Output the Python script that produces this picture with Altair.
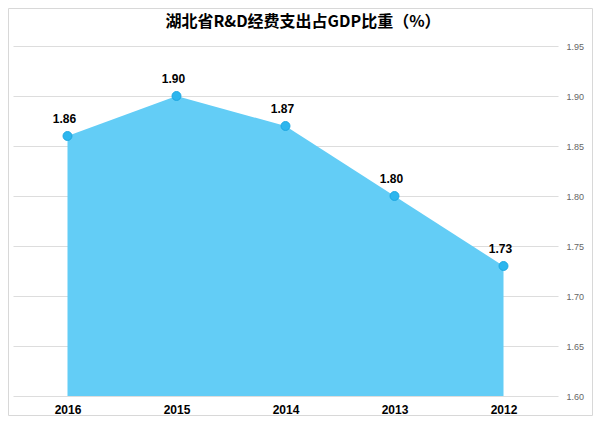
import altair as alt
import pandas as pd

years = ["2016", "2015", "2014", "2013", "2012"]
values = [1.86, 1.90, 1.87, 1.80, 1.73]
y_ticks = [1.60, 1.65, 1.70, 1.75, 1.80, 1.85, 1.90, 1.95]
title_text = "湖北省R&D经费支出占GDP比重（%）"

df = pd.DataFrame({"year": years, "value": values})

x_enc = alt.X("year:N", sort=years, title=None,
              scale=alt.Scale(type="point", padding=0.5),
              axis=alt.Axis(labelAngle=0, labelFont="Liberation Sans", labelFontSize=12,
                            labelFontWeight="bold", labelColor="#000000", ticks=False,
                            domain=False, labelPadding=8, grid=False))
y_enc = alt.Y("value:Q", title=None,
              scale=alt.Scale(domain=[1.60, 1.95], zero=False, nice=False),
              axis=alt.Axis(orient="right", values=y_ticks, format=".2f", labelFontSize=9,
                            labelColor="#666666", ticks=False, domain=False, labelPadding=8,
                            gridColor="#dddddd", gridWidth=1))

base = alt.Chart(df)

area = base.mark_area(color="#63CDF6", opacity=1).encode(x=x_enc, y=y_enc, y2=alt.datum(1.60))
pts = base.mark_circle(size=80, color="#2DB6EE", opacity=1, stroke="#1FA8E2", strokeWidth=1).encode(
    x=alt.X("year:N", sort=years), y="value:Q")
labels = base.mark_text(dy=-17, dx=-3, fontSize=12, font="Liberation Sans", color="#000000",
                        fontWeight="bold").encode(
    x=alt.X("year:N", sort=years), y="value:Q", text=alt.Text("value:Q", format=".2f"))

meta = pd.DataFrame({"t": [title_text]})
title = alt.Chart(meta).mark_text(font="Noto Sans CJK SC", fontSize=16, fontWeight="bold",
                                  color="#000000", baseline="middle", align="center").encode(
    text="t:N", x=alt.value(290), y=alt.value(-24))

frame = alt.Chart(meta).mark_rect(
    fill=None, stroke="#d8d8d8", strokeWidth=1).encode(
    x=alt.value(-4.5), x2=alt.value(579.5), y=alt.value(-37.5), y2=alt.value(369.5))

chart = alt.layer(area, pts, labels, title, frame).properties(
    width=545, height=350,
    autosize=alt.AutoSizeParams(type="none"),
    padding={"left": 5, "top": 38, "right": 36, "bottom": 21},
).configure_view(stroke=None).configure_axis(labelFont="Liberation Sans")

chart.save("out.html", embed_options={"renderer": "svg", "actions": False})
